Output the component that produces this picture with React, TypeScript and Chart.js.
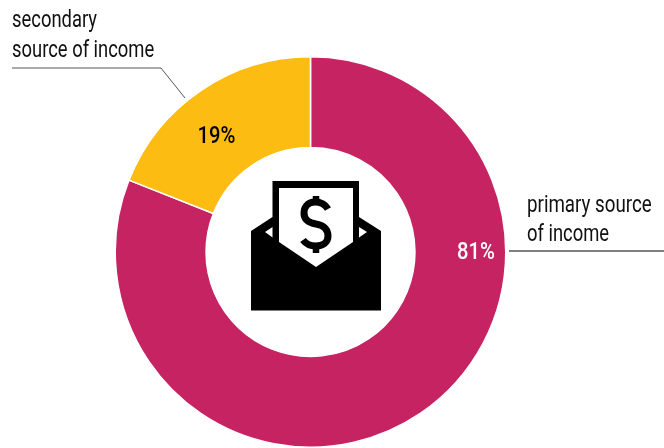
import React, { useEffect, useRef } from "react";
import { Chart, registerables } from "chart.js";

Chart.register(...registerables);

const categories = ["primary source of income", "secondary source of income"];
const values = [81, 19];
const colors = ["#C52361", "#FDBC11"];
const valueLabels = ["81%", "19%"];
const valueLabelColors = ["#FFFFFF", "#000000"];
const primaryLines = ["primary source", "of income"];
const secondaryLines = ["secondary", "source of income"];
const FONT = 'Roboto, "Liberation Sans", sans-serif';
const NARROW = 0.8;

function narrowText(ctx: any, text: string, x: number, y: number, k = NARROW) {
  ctx.save();
  ctx.translate(x, y);
  ctx.scale(k, 1);
  ctx.fillText(text, 0, 0);
  ctx.restore();
}

const annotate = {
  id: "annotate",
  afterDraw(chart: any) {
    const { ctx } = chart;
    const arcs = chart.getDatasetMeta(0).data;
    const { x: cx, y: cy } = arcs[0];
    ctx.save();

    ctx.textBaseline = "alphabetic";
    ctx.textAlign = "center";
    ctx.font = `500 24px ${FONT}`;
    const spots = [
      [476, 259],
      [216.5, 143],
    ];
    valueLabels.forEach((t, i) => {
      ctx.fillStyle = valueLabelColors[i];
      narrowText(ctx, t, spots[i][0], spots[i][1], 0.84);
    });

    ctx.textAlign = "left";
    ctx.fillStyle = "#111111";
    ctx.font = `400 23px ${FONT}`;
    narrowText(ctx, secondaryLines[0], 12, 27);
    narrowText(ctx, secondaryLines[1], 12, 57);
    narrowText(ctx, primaryLines[0], 527, 212, 0.815);
    narrowText(ctx, primaryLines[1], 527, 241);

    ctx.strokeStyle = "#555555";
    ctx.lineWidth = 1;
    ctx.beginPath();
    ctx.moveTo(12, 68);
    ctx.lineTo(161, 68);
    ctx.lineTo(185, 98);
    ctx.stroke();
    ctx.lineWidth = 1.5;
    ctx.beginPath();
    ctx.moveTo(509, 251);
    ctx.lineTo(664, 251);
    ctx.stroke();

    ctx.translate(cx - 310.5, cy - 252);
    ctx.fillStyle = "#000000";
    ctx.beginPath();
    ctx.moveTo(251, 231);
    ctx.lineTo(272.5, 217);
    ctx.lineTo(272.5, 181);
    ctx.lineTo(359, 181);
    ctx.lineTo(359, 217);
    ctx.lineTo(381, 231);
    ctx.lineTo(381, 310.5);
    ctx.lineTo(251, 310.5);
    ctx.closePath();
    ctx.fill();
    ctx.fillStyle = "#FFFFFF";
    ctx.beginPath();
    ctx.moveTo(279, 188);
    ctx.lineTo(353, 188);
    ctx.lineTo(353, 242);
    ctx.lineTo(316, 267);
    ctx.lineTo(279, 242);
    ctx.closePath();
    ctx.fill();
    ctx.beginPath();
    ctx.moveTo(272.5, 227);
    ctx.lineTo(272.5, 237.5);
    ctx.lineTo(265, 232);
    ctx.closePath();
    ctx.moveTo(359, 227);
    ctx.lineTo(359, 237.5);
    ctx.lineTo(367, 232);
    ctx.closePath();
    ctx.fill();
    ctx.strokeStyle = "#000000";
    ctx.lineWidth = 6.5;
    ctx.beginPath();
    ctx.moveTo(316, 196);
    ctx.lineTo(316, 204);
    ctx.moveTo(316, 245);
    ctx.lineTo(316, 253);
    ctx.stroke();
    ctx.lineWidth = 7;
    ctx.beginPath();
    ctx.moveTo(328, 209);
    ctx.bezierCurveTo(325, 204, 320, 202, 315, 202);
    ctx.bezierCurveTo(307, 202, 304, 208, 304, 213);
    ctx.bezierCurveTo(304, 221, 310, 223, 316, 224);
    ctx.bezierCurveTo(323, 225, 328, 229, 328, 236);
    ctx.bezierCurveTo(328, 243, 322, 246, 316, 246);
    ctx.bezierCurveTo(310, 246, 306, 244, 303, 240);
    ctx.stroke();

    ctx.restore();
  },
};

export default function App() {
  const ref = useRef<HTMLCanvasElement>(null);
  useEffect(() => {
    const chart = new Chart(ref.current!, {
      type: "doughnut",
      data: {
        labels: categories,
        datasets: [
          {
            data: values,
            backgroundColor: colors,
            borderColor: "#FFFFFF",
            borderWidth: 1.5,
            hoverOffset: 0,
          },
        ],
      },
      options: {
        responsive: false,
        animation: false,
        cutout: "53.5%",
        layout: { padding: { left: 114, right: 157, top: 56, bottom: 0 } },
        plugins: { legend: { display: false }, tooltip: { enabled: false } },
      },
      plugins: [annotate],
    } as any);
    return () => chart.destroy();
  }, []);
  return (
    <canvas
      ref={ref}
      width={664}
      height={448}
      style={{ position: "fixed", left: 0, top: 0, width: 664, height: 448, background: "#fff" }}
    />
  );
}
